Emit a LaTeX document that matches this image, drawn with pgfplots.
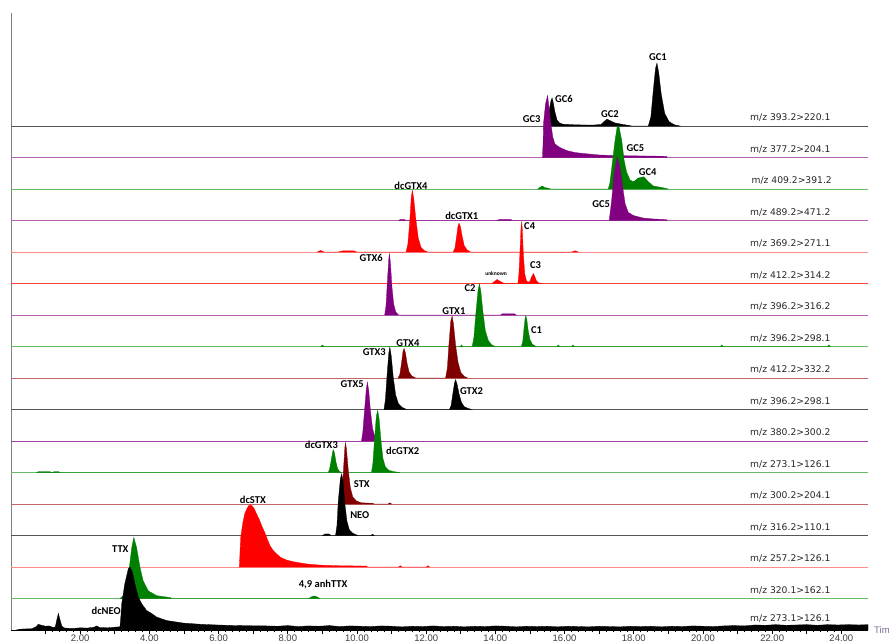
\documentclass[border=0pt]{standalone}
\usepackage{pgfplots}
\pgfplotsset{compat=1.18}
\usepackage{fontspec}
\setmainfont{Liberation Sans}
\newfontfamily\labfont{Carlito}
\newfontfamily\mzfont{DejaVu Sans}
\newfontfamily\tickfont{Liberation Sans}
\definecolor{lblack}{HTML}{555555}
\definecolor{fpurple}{HTML}{800080}
\definecolor{lpurple}{HTML}{B266B2}
\definecolor{fgreen}{HTML}{008000}
\definecolor{lgreen}{HTML}{66BB66}
\definecolor{fred}{HTML}{FF0000}
\definecolor{lpink}{HTML}{FF8A8A}
\definecolor{lred}{HTML}{FF4040}
\definecolor{fdred}{HTML}{800000}
\definecolor{ldred}{HTML}{C06666}
\definecolor{timec}{HTML}{7F6A93}
\tikzset{
  base/.style={line width=1pt},
  pk/.style={draw=#1, fill=#1, line width=0.3pt},
  lab/.style={font=\labfont\bfseries\fontsize{10.5}{11}\selectfont, inner sep=0pt},
  mz/.style={font=\mzfont\fontsize{9.2}{10}\selectfont, anchor=base west, inner sep=0pt, text=black!85},
}
\begin{document}
\begin{tikzpicture}
\path[use as bounding box] (0,0) rectangle (891pt,644pt);
\begin{axis}[
  at={(11pt,14pt)}, anchor=south west,
  scale only axis, width=857pt, height=617pt,
  xmin=0, xmax=24.77, ymin=0, ymax=19.59,
  enlargelimits=false, clip=false,
  axis x line*=bottom, axis y line*=left,
  x axis line style={black, line width=0.8pt},
  y axis line style={draw=gray, line width=0.8pt},
  ytick=\empty,
  xtick={1,2,...,24},
  xticklabels={,2.00,,4.00,,6.00,,8.00,,10.00,,12.00,,14.00,,16.00,,18.00,,20.00,,22.00,,24.00},
  minor x tick num=4,
  tick align=outside,
  major tick length=4pt, minor tick length=2.5pt,
  tick style={black, line width=0.6pt},
  xticklabel style={font=\tickfont\fontsize{9.5}{10}\selectfont, text=black!75, inner sep=0.5pt, yshift=-0.5pt},
]
% ---------- trace 1 (b=16) black
\addplot[base, lblack] coordinates {(0,16) (24.77,16)};
\addplot[pk=black] coordinates {(15.45,16) (15.50,16.13) (15.56,16.53) (15.61,16.82) (15.64,16.89) (15.67,16.76) (15.72,16.45) (15.78,16.2) (15.85,16.1) (15.95,16.06) (16.3,16.04) (16.8,16.03) (17.05,16.05) (17.15,16.15) (17.23,16.22) (17.32,16.17) (17.45,16.1) (17.6,16.07) (17.8,16.03) (17.95,16) (18.42,16) (18.495,16.3) (18.57,17.2) (18.63,17.84) (18.67,18) (18.72,17.7) (18.795,17.0) (18.895,16.4) (19.02,16.14) (19.17,16.04) (19.35,16)} -- cycle;
% ---------- trace 2 (b=15) purple
\addplot[base, lpurple] coordinates {(0,15) (24.77,15)};
\addplot[pk=fpurple] coordinates {(15.36,15) (15.38,15.5) (15.39,16.07) (15.45,16.71) (15.51,16.97) (15.58,16.28) (15.66,15.64) (15.72,15.44) (15.78,15.38) (15.9,15.3) (16.07,15.22) (16.3,15.16) (16.53,15.13) (17.02,15.08) (17.6,15.06) (18.3,15.05) (18.95,15.04) (18.97,15)} -- cycle;
% ---------- trace 3 (b=14) green
\addplot[base, lgreen] coordinates {(0,14) (24.77,14)};
\addplot[pk=fgreen] coordinates {(15.22,14) (15.3,14.06) (15.35,14.1) (15.42,14.05) (15.55,14.02) (15.6,14) (17.26,14) (17.31,14.19) (17.38,14.83) (17.46,15.56) (17.52,15.97) (17.57,16.0) (17.65,15.56) (17.72,14.92) (17.79,14.55) (17.89,14.29) (17.99,14.23) (18.13,14.35) (18.29,14.39) (18.42,14.23) (18.56,14.1) (18.85,14.04) (19.0,14)} -- cycle;
% ---------- trace 4 (b=13) purple
\addplot[base, lpurple] coordinates {(0,13) (24.77,13)};
\addplot[pk=fpurple] coordinates {(11.2,13) (11.25,13.03) (11.38,13.03) (11.42,13) (14.05,13) (14.1,13.03) (14.45,13.03) (14.5,13) (17.29,13) (17.36,13.63) (17.43,14.48) (17.51,14.95) (17.53,15.0) (17.60,14.69) (17.68,14.06) (17.75,13.53) (17.84,13.26) (17.99,13.16) (18.27,13.08) (18.56,13.05) (18.95,13.03) (18.97,13)} -- cycle;
% ---------- trace 5 (b=12) red, pink line
\addplot[base, lpink] coordinates {(0,12) (24.77,12)};
\addplot[pk=fred] coordinates {(8.85,12) (8.95,12.05) (9.05,12) (9.45,12) (9.6,12.04) (9.9,12.04) (10.0,12) (11.42,12) (11.47,12.25) (11.52,12.9) (11.57,13.75) (11.6,13.96) (11.64,13.7) (11.7,13.05) (11.77,12.45) (11.85,12.15) (11.95,12.04) (12.05,12) (12.78,12) (12.83,12.12) (12.88,12.5) (12.92,12.83) (12.95,12.92) (12.99,12.8) (13.04,12.5) (13.1,12.2) (13.18,12.07) (13.28,12) (16.2,12) (16.3,12.04) (16.4,12)} -- cycle;
% ---------- trace 6 (b=11) red
\addplot[base, lred] coordinates {(0,11) (24.77,11)};
\addplot[pk=fred] coordinates {(13.9,11) (13.98,11.07) (14.05,11.13) (14.12,11.08) (14.22,11.02) (14.3,11) (14.65,11) (14.68,11.3) (14.71,12.0) (14.74,12.75) (14.76,12.97) (14.78,12.7) (14.81,11.9) (14.85,11.3) (14.9,11.08) (14.95,11.04) (15.0,11.08) (15.05,11.22) (15.1,11.32) (15.14,11.22) (15.19,11.08) (15.25,11.02) (15.35,11)} -- cycle;
% ---------- trace 7 (b=10) purple
\addplot[base, lpurple] coordinates {(0,10) (24.77,10)};
\addplot[pk=fpurple] coordinates {(10.80,10) (10.84,10.3) (10.88,11.1) (10.92,11.8) (10.94,11.95) (10.97,11.6) (11.01,10.9) (11.06,10.35) (11.12,10.1) (11.2,10) (14.15,10) (14.2,10.04) (14.55,10.04) (14.6,10)} -- cycle;
% ---------- trace 8 (b=9) green
\addplot[base, lgreen] coordinates {(0,9) (24.77,9)};
\addplot[pk=fgreen] coordinates {(8.95,9) (9.0,9.05) (9.05,9) (12.98,9) (13.02,9.05) (13.06,9) (13.33,9) (13.38,9.3) (13.44,10.1) (13.5,10.8) (13.54,10.99) (13.58,10.75) (13.64,10.1) (13.71,9.5) (13.8,9.18) (13.9,9.05) (14.0,9) (14.75,9) (14.79,9.15) (14.83,9.6) (14.86,9.9) (14.88,9.98) (14.91,9.85) (14.95,9.5) (15.0,9.22) (15.07,9.07) (15.18,9) (15.78,9) (15.82,9.05) (15.86,9) (16.2,9) (16.24,9.05) (16.28,9) (20.5,9) (20.54,9.05) (20.58,9) (23.6,9) (23.64,9.05) (23.68,9)} -- cycle;
% ---------- trace 9 (b=8) dark red
\addplot[base, ldred] coordinates {(0,8) (24.77,8)};
\addplot[pk=fdred] coordinates {(11.19,8) (11.24,8.12) (11.29,8.5) (11.33,8.85) (11.36,8.94) (11.4,8.8) (11.45,8.45) (11.51,8.18) (11.59,8.06) (11.7,8) (12.56,8) (12.61,8.3) (12.66,9.1) (12.71,9.8) (12.75,9.97) (12.79,9.7) (12.85,9.05) (12.92,8.5) (13.0,8.18) (13.1,8.05) (13.2,8)} -- cycle;
% ---------- trace 10 (b=7) black
\addplot[base, lblack] coordinates {(0,7) (24.77,7)};
\addplot[pk=black] coordinates {(10.78,7) (10.82,7.3) (10.87,8.1) (10.92,8.8) (10.95,8.98) (10.99,8.7) (11.05,8.0) (11.12,7.45) (11.2,7.18) (11.3,7.07) (11.44,7) (12.67,7) (12.72,7.12) (12.77,7.5) (12.82,7.85) (12.85,7.95) (12.89,7.82) (12.95,7.5) (13.02,7.22) (13.1,7.09) (13.2,7.04) (13.32,7)} -- cycle;
% ---------- trace 11 (b=6) purple
\addplot[base, fpurple!75] coordinates {(0,6) (24.77,6)};
\addplot[pk=fpurple] coordinates {(10.13,6) (10.17,6.3) (10.22,7.0) (10.27,7.65) (10.3,7.87) (10.34,7.6) (10.39,6.95) (10.45,6.4) (10.52,6.12) (10.6,6.04) (10.7,6)} -- cycle;
% ---------- trace 12 (b=5) green
\addplot[base, lgreen] coordinates {(0,5) (24.77,5)};
\addplot[pk=fgreen] coordinates {(0.74,5) (0.8,5.03) (1.1,5.03) (1.2,5) (1.25,5.03) (1.37,5.03) (1.42,5) (9.17,5) (9.21,5.12) (9.26,5.42) (9.3,5.68) (9.32,5.72) (9.35,5.62) (9.39,5.35) (9.44,5.12) (9.5,5.03) (9.56,5) (10.42,5) (10.46,5.3) (10.51,6.1) (10.56,6.8) (10.6,6.97) (10.64,6.7) (10.69,6.05) (10.75,5.45) (10.82,5.18) (10.92,5.07) (11.05,5.03) (11.25,5)} -- cycle;
% ---------- trace 13 (b=4) dark red
\addplot[base, ldred] coordinates {(0,4) (24.77,4)};
\addplot[pk=fdred] coordinates {(9.55,4) (9.58,4.4) (9.61,5.1) (9.65,5.8) (9.67,5.95) (9.7,5.7) (9.75,5.05) (9.81,4.5) (9.88,4.22) (9.98,4.1) (10.12,4.04) (10.45,4.02) (10.5,4) (10.9,4) (10.95,4.04) (11.0,4)} -- cycle;
% ---------- trace 14 (b=3) black
\addplot[base, lblack] coordinates {(0,3) (24.77,3)};
\addplot[pk=black] coordinates {(9.0,3) (9.08,3.05) (9.2,3.05) (9.25,3) (9.38,3) (9.42,3.3) (9.46,4.1) (9.52,4.8) (9.56,4.96) (9.6,4.7) (9.65,4.0) (9.71,3.45) (9.78,3.18) (9.88,3.07) (10.03,3) (10.4,3) (10.45,3.04) (10.5,3)} -- cycle;
% ---------- trace 15 (b=2) red, pink line
\addplot[base, lpink] coordinates {(0,2) (24.77,2)};
\addplot[pk=fred] coordinates {(6.6,2) (6.62,2.5) (6.64,2.94) (6.7,3.4) (6.76,3.71) (6.86,3.94) (6.92,3.97) (6.96,3.95) (7.03,3.85) (7.1,3.68) (7.18,3.5) (7.25,3.3) (7.34,3.08) (7.42,2.85) (7.49,2.67) (7.58,2.52) (7.68,2.41) (7.8,2.3) (7.97,2.22) (8.15,2.17) (8.35,2.13) (8.6,2.09) (8.93,2.06) (9.5,2.04) (10.28,2.03) (10.3,2) (11.2,2) (11.25,2.04) (11.3,2) (12.0,2) (12.05,2.04) (12.1,2)} -- cycle;
% ---------- trace 16 (b=1) green
\addplot[base, lgreen] coordinates {(0,1) (24.77,1)};
\addplot[pk=fgreen] coordinates {(3.15,1) (3.25,1.09) (3.34,1.35) (3.42,1.98) (3.49,2.62) (3.55,2.94) (3.63,2.62) (3.73,1.98) (3.82,1.56) (3.97,1.24) (4.21,1.09) (4.6,1.03) (4.65,1) (8.6,1) (8.68,1.05) (8.76,1.08) (8.85,1.05) (8.92,1)} -- cycle;
% ---------- trace 17 (b=0) black
\addplot[pk=black] coordinates {(0.15,0) (0.3,0.03) (0.6,0.04) (0.72,0.1) (0.79,0.18) (0.89,0.15) (1.0,0.12) (1.1,0.13) (1.22,0.08) (1.28,0.1) (1.33,0.35) (1.37,0.53) (1.41,0.35) (1.47,0.12) (1.55,0.06) (1.8,0.05) (2.0,0.07) (2.2,0.06) (2.4,0.09) (2.48,0.13) (2.56,0.08) (2.8,0.07) (3.0,0.09) (3.12,0.1) (3.15,0.1) (3.18,0.5) (3.2,0.83) (3.29,1.47) (3.39,1.94) (3.44,2.0) (3.51,1.83) (3.58,1.47) (3.68,1.04) (3.78,0.83) (3.92,0.62) (4.07,0.52) (4.21,0.41) (4.5,0.3) (4.98,0.22) (5.5,0.18) (5.95,0.16) (6.5,0.14) (7.39,0.13) (7.7,0.12) (8.0,0.14) (8.3,0.11) (8.6,0.13) (8.9,0.12) (9.2,0.14) (9.5,0.11) (9.8,0.13) (10.1,0.12) (10.4,0.11) (10.7,0.13) (11.0,0.12) (11.3,0.1) (11.6,0.12) (11.9,0.11) (12.2,0.13) (12.5,0.11) (12.8,0.12) (13.1,0.1) (13.4,0.12) (13.7,0.11) (14.0,0.13) (14.3,0.12) (14.6,0.1) (14.9,0.12) (15.2,0.11) (15.5,0.12) (15.8,0.1) (16.1,0.12) (16.4,0.11) (16.7,0.1) (17.0,0.12) (17.3,0.11) (17.6,0.1) (17.9,0.12) (18.2,0.11) (18.5,0.12) (18.8,0.1) (19.1,0.12) (19.4,0.11) (19.7,0.13) (20.0,0.12) (20.3,0.11) (20.6,0.13) (20.9,0.14) (21.2,0.13) (21.5,0.16) (21.8,0.15) (22.1,0.17) (22.4,0.15) (22.7,0.16) (23.0,0.17) (23.3,0.15) (23.6,0.17) (23.9,0.16) (24.2,0.17) (24.5,0.16) (24.77,0.17) (24.77,0)} -- cycle;
% ---------- m/z labels
\node[mz] at (axis cs:21.36,16) [yshift=5.5pt] {m/z 393.2>220.1};
\node[mz] at (axis cs:21.36,15) [yshift=5.5pt] {m/z 377.2>204.1};
\node[mz] at (axis cs:21.40,14) [yshift=5.5pt] {m/z 409.2>391.2};
\node[mz] at (axis cs:21.36,13) [yshift=5.5pt] {m/z 489.2>471.2};
\node[mz] at (axis cs:21.36,12) [yshift=5.5pt] {m/z 369.2>271.1};
\node[mz] at (axis cs:21.36,11) [yshift=5.5pt] {m/z 412.2>314.2};
\node[mz] at (axis cs:21.36,10) [yshift=5.5pt] {m/z 396.2>316.2};
\node[mz] at (axis cs:21.36,9) [yshift=5.5pt] {m/z 396.2>298.1};
\node[mz] at (axis cs:21.36,8) [yshift=5.5pt] {m/z 412.2>332.2};
\node[mz] at (axis cs:21.36,7) [yshift=5.5pt] {m/z 396.2>298.1};
\node[mz] at (axis cs:21.36,6) [yshift=5.5pt] {m/z 380.2>300.2};
\node[mz] at (axis cs:21.36,5) [yshift=5.5pt] {m/z 273.1>126.1};
\node[mz] at (axis cs:21.36,4) [yshift=5.5pt] {m/z 300.2>204.1};
\node[mz] at (axis cs:21.36,3) [yshift=5.5pt] {m/z 316.2>110.1};
\node[mz] at (axis cs:21.36,2) [yshift=5.5pt] {m/z 257.2>126.1};
\node[mz] at (axis cs:21.36,1) [yshift=5.5pt] {m/z 320.1>162.1};
\node[mz] at (axis cs:21.36,0) [yshift=8pt] {m/z 273.1>126.1};
% ---------- peak labels
\node[lab] at (axis cs:18.70,18.19) {GC1};
\node[lab] at (axis cs:15.98,16.86) {GC6};
\node[lab] at (axis cs:15.05,16.22) {GC3};
\node[lab] at (axis cs:17.31,16.38) {GC2};
\node[lab] at (axis cs:18.05,15.30) {GC5};
\node[lab] at (axis cs:18.40,14.54) {GC4};
\node[lab] at (axis cs:17.06,13.52) {GC5};
\node[lab] at (axis cs:11.56,14.10) {dcGTX4};
\node[lab] at (axis cs:13.03,13.14) {dcGTX1};
\node[lab] at (axis cs:14.99,12.83) {C4};
\node[lab] at (axis cs:15.16,11.59) {C3};
\node[font=\labfont\bfseries\fontsize{5.5}{6}\selectfont, inner sep=0pt] at (axis cs:14.02,11.33) {unknown};
\node[lab] at (axis cs:10.41,11.81) {GTX6};
\node[lab] at (axis cs:13.27,10.86) {C2};
\node[lab] at (axis cs:12.80,10.13) {GTX1};
\node[lab] at (axis cs:15.19,9.52) {C1};
\node[lab] at (axis cs:11.47,9.11) {GTX4};
\node[lab] at (axis cs:10.50,8.83) {GTX3};
\node[lab] at (axis cs:9.86,7.81) {GTX5};
\node[lab] at (axis cs:13.31,7.59) {GTX2};
\node[lab] at (axis cs:8.97,5.87) {dcGTX3};
\node[lab] at (axis cs:11.32,5.68) {dcGTX2};
\node[lab] at (axis cs:10.14,4.63) {STX};
\node[lab] at (axis cs:10.08,3.65) {NEO};
\node[lab] at (axis cs:6.99,4.13) {dcSTX};
\node[lab] at (axis cs:3.16,2.57) {TTX};
\node[lab] at (axis cs:9.02,1.43) {4,9 anhTTX};
\node[lab] at (axis cs:2.75,0.60) {dcNEO};
\node[font=\tickfont\fontsize{9.5}{10}\selectfont, text=timec, anchor=west, inner sep=0pt] at (axis cs:24.77,0) [xshift=6pt] {Tim};
\end{axis}
\end{tikzpicture}
\end{document}
